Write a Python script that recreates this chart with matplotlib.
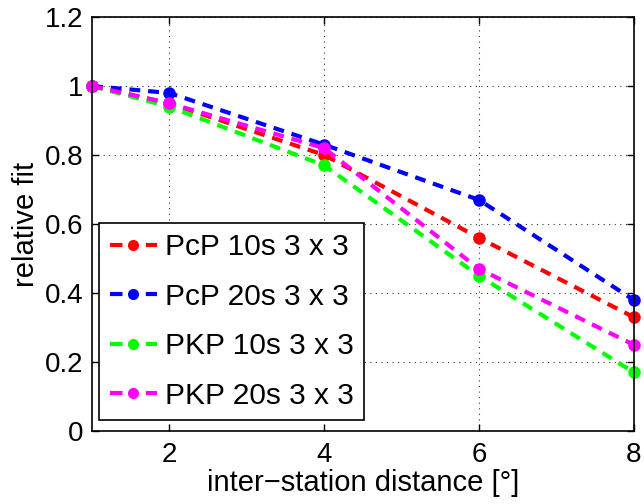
import matplotlib
matplotlib.use("Agg")
import matplotlib.pyplot as plt

plt.rcParams['font.family'] = ['Liberation Sans', 'DejaVu Sans']

distance = [1, 2, 4, 6, 8]
pcp_10s = [1.00, 0.95, 0.80, 0.56, 0.33]
pcp_20s = [1.00, 0.98, 0.83, 0.67, 0.38]
pkp_10s = [1.00, 0.94, 0.77, 0.45, 0.17]
pkp_20s = [1.00, 0.95, 0.82, 0.47, 0.25]

series = [
    ("PcP 10s 3 x 3", pcp_10s, "#ff0000"),
    ("PcP 20s 3 x 3", pcp_20s, "#0000ff"),
    ("PKP 10s 3 x 3", pkp_10s, "#00ff00"),
    ("PKP 20s 3 x 3", pkp_20s, "#ff00ff"),
]

fig = plt.figure(figsize=(6.44, 5.04), dpi=100)
ax = fig.add_axes([0.143, 0.145, 0.841, 0.821])

for label, vals, col in series:
    ax.plot(distance, vals, linestyle=(0, (2.6, 1.9)), linewidth=3.0,
            color=col, marker='o', markersize=8, label=label, clip_on=False)

ax.set_xlim(1, 8)
ax.set_ylim(0, 1.2)
ax.set_xticks([2, 4, 6, 8])
ax.set_yticks([0, 0.2, 0.4, 0.6, 0.8, 1.0, 1.2])
ax.set_yticklabels(["0", "0.2", "0.4", "0.6", "0.8", "1", "1.2"])
ax.grid(True, linestyle=(0, (1, 4)), color='black', linewidth=0.8, alpha=0.8)
ax.tick_params(direction='in', top=True, right=True, labelsize=20, length=5, width=1)
ax.tick_params(axis='x', pad=8)
ax.tick_params(axis='y', pad=6)
for s in ax.spines.values():
    s.set_linewidth(1.2)

ax.set_xlabel("inter\u2212station distance [\u00b0]", fontsize=21, labelpad=1)
ax.set_ylabel("relative fit", fontsize=21, labelpad=4)

leg = ax.legend(loc='lower left', bbox_to_anchor=(0.013, 0.026), borderaxespad=0,
                fontsize=21.5, handlelength=1.6, handletextpad=0.25, labelspacing=0.72,
                fancybox=False, framealpha=1, edgecolor='black', borderpad=0.35)
leg.get_frame().set_linewidth(1.2)
# legend keys drawn as "- o -": short dash, marker, short dash
for h in leg.get_lines():
    h.set_markersize(7)
    h.set_linestyle((0, (3.0, 5.6)))

fig.savefig("out.png", dpi=100)
